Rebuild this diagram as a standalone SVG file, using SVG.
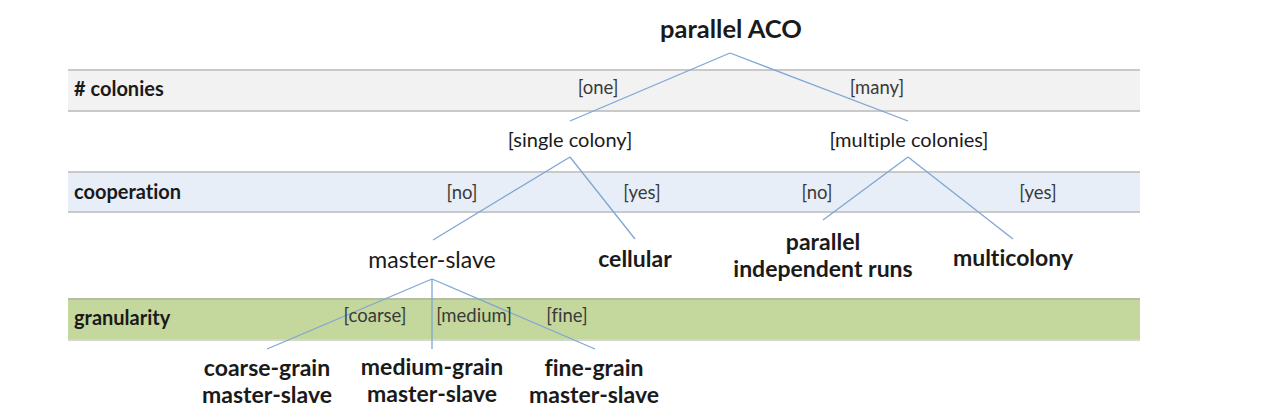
<svg xmlns="http://www.w3.org/2000/svg" width="1288" height="420" viewBox="0 0 1288 420">
<style>
text{font-family:Lato,"Liberation Sans",sans-serif;fill:#1a1a1a;font-variant-ligatures:none;font-feature-settings:"liga" 0,"clig" 0,"dlig" 0}
.lvl{font-size:20px;font-weight:bold}
.br{font-size:18.5px;fill:#3a3a3a;text-anchor:middle}
.n{font-size:23px;text-anchor:middle}
.nb{font-size:23px;font-weight:bold;text-anchor:middle}
.sm{font-size:20px;text-anchor:middle}
.bandline{stroke:#c9c9c9;stroke-width:2}
#connectors line{stroke:#7fa6d4;stroke-width:1.3}
</style>
<rect width="1288" height="420" fill="#ffffff"/>
<g id="bands">
<rect x="68" y="69" width="1072" height="43" fill="#f2f2f2"/>
<line class="bandline" x1="68" y1="70" x2="1140" y2="70"/>
<line class="bandline" x1="68" y1="111" x2="1140" y2="111"/>
<rect x="68" y="171" width="1072" height="42" fill="#e7eef8"/>
<line class="bandline" x1="68" y1="172" x2="1140" y2="172"/>
<line class="bandline" x1="68" y1="212" x2="1140" y2="212"/>
<rect x="68" y="298" width="1072" height="43" fill="#c4d79c"/>
<line x1="68" y1="299" x2="1140" y2="299" stroke="#b3bfa0" stroke-width="2"/>
<line x1="68" y1="340" x2="1140" y2="340" stroke="#d3d8cc" stroke-width="2"/>
<text class="lvl" x="74" y="96"># colonies</text>
<text class="lvl" x="74" y="199">cooperation</text>
<text class="lvl" x="74" y="325">granularity</text>
</g>
<g id="connectors">
<line x1="730" y1="53" x2="570" y2="121"/>
<line x1="730" y1="53" x2="908" y2="121"/>
<line x1="570" y1="157" x2="433" y2="240"/>
<line x1="570" y1="157" x2="635" y2="239"/>
<line x1="908" y1="157" x2="823" y2="220"/>
<line x1="908" y1="157" x2="1013" y2="239"/>
<line x1="432" y1="279" x2="267" y2="349"/>
<line x1="432" y1="279" x2="432" y2="349"/>
<line x1="432" y1="279" x2="595" y2="349"/>
</g>
<g id="edge-labels">
<text class="br" x="598" y="94">[one]</text>
<text class="br" x="877" y="94">[many]</text>
<text class="br" x="462" y="199">[no]</text>
<text class="br" x="642" y="199">[yes]</text>
<text class="br" x="817" y="199">[no]</text>
<text class="br" x="1038" y="199">[yes]</text>
<text class="br" x="375" y="322">[coarse]</text>
<text class="br" x="474" y="322">[medium]</text>
<text class="br" x="567" y="322">[fine]</text>
</g>
<g id="node-root"><text class="nb" x="731" y="38" style="font-size:25.5px">parallel ACO</text></g>
<g id="node-single"><text class="sm" x="570" y="147">[single colony]</text></g>
<g id="node-multiple"><text class="sm" x="909" y="147">[multiple colonies]</text></g>
<g id="node-masterslave"><text class="n" x="432" y="268">master-slave</text></g>
<g id="node-cellular"><text class="nb" x="635" y="267">cellular</text></g>
<g id="node-pir"><text class="nb" x="823" y="250">parallel</text><text class="nb" x="823" y="277">independent runs</text></g>
<g id="node-multicolony"><text class="nb" x="1013" y="266">multicolony</text></g>
<g id="node-coarse"><text class="nb" x="267" y="376">coarse-grain</text><text class="nb" x="267" y="403">master-slave</text></g>
<g id="node-medium"><text class="nb" x="432" y="375">medium-grain</text><text class="nb" x="432" y="402">master-slave</text></g>
<g id="node-fine"><text class="nb" x="594" y="376">fine-grain</text><text class="nb" x="594" y="403">master-slave</text></g>
</svg>
